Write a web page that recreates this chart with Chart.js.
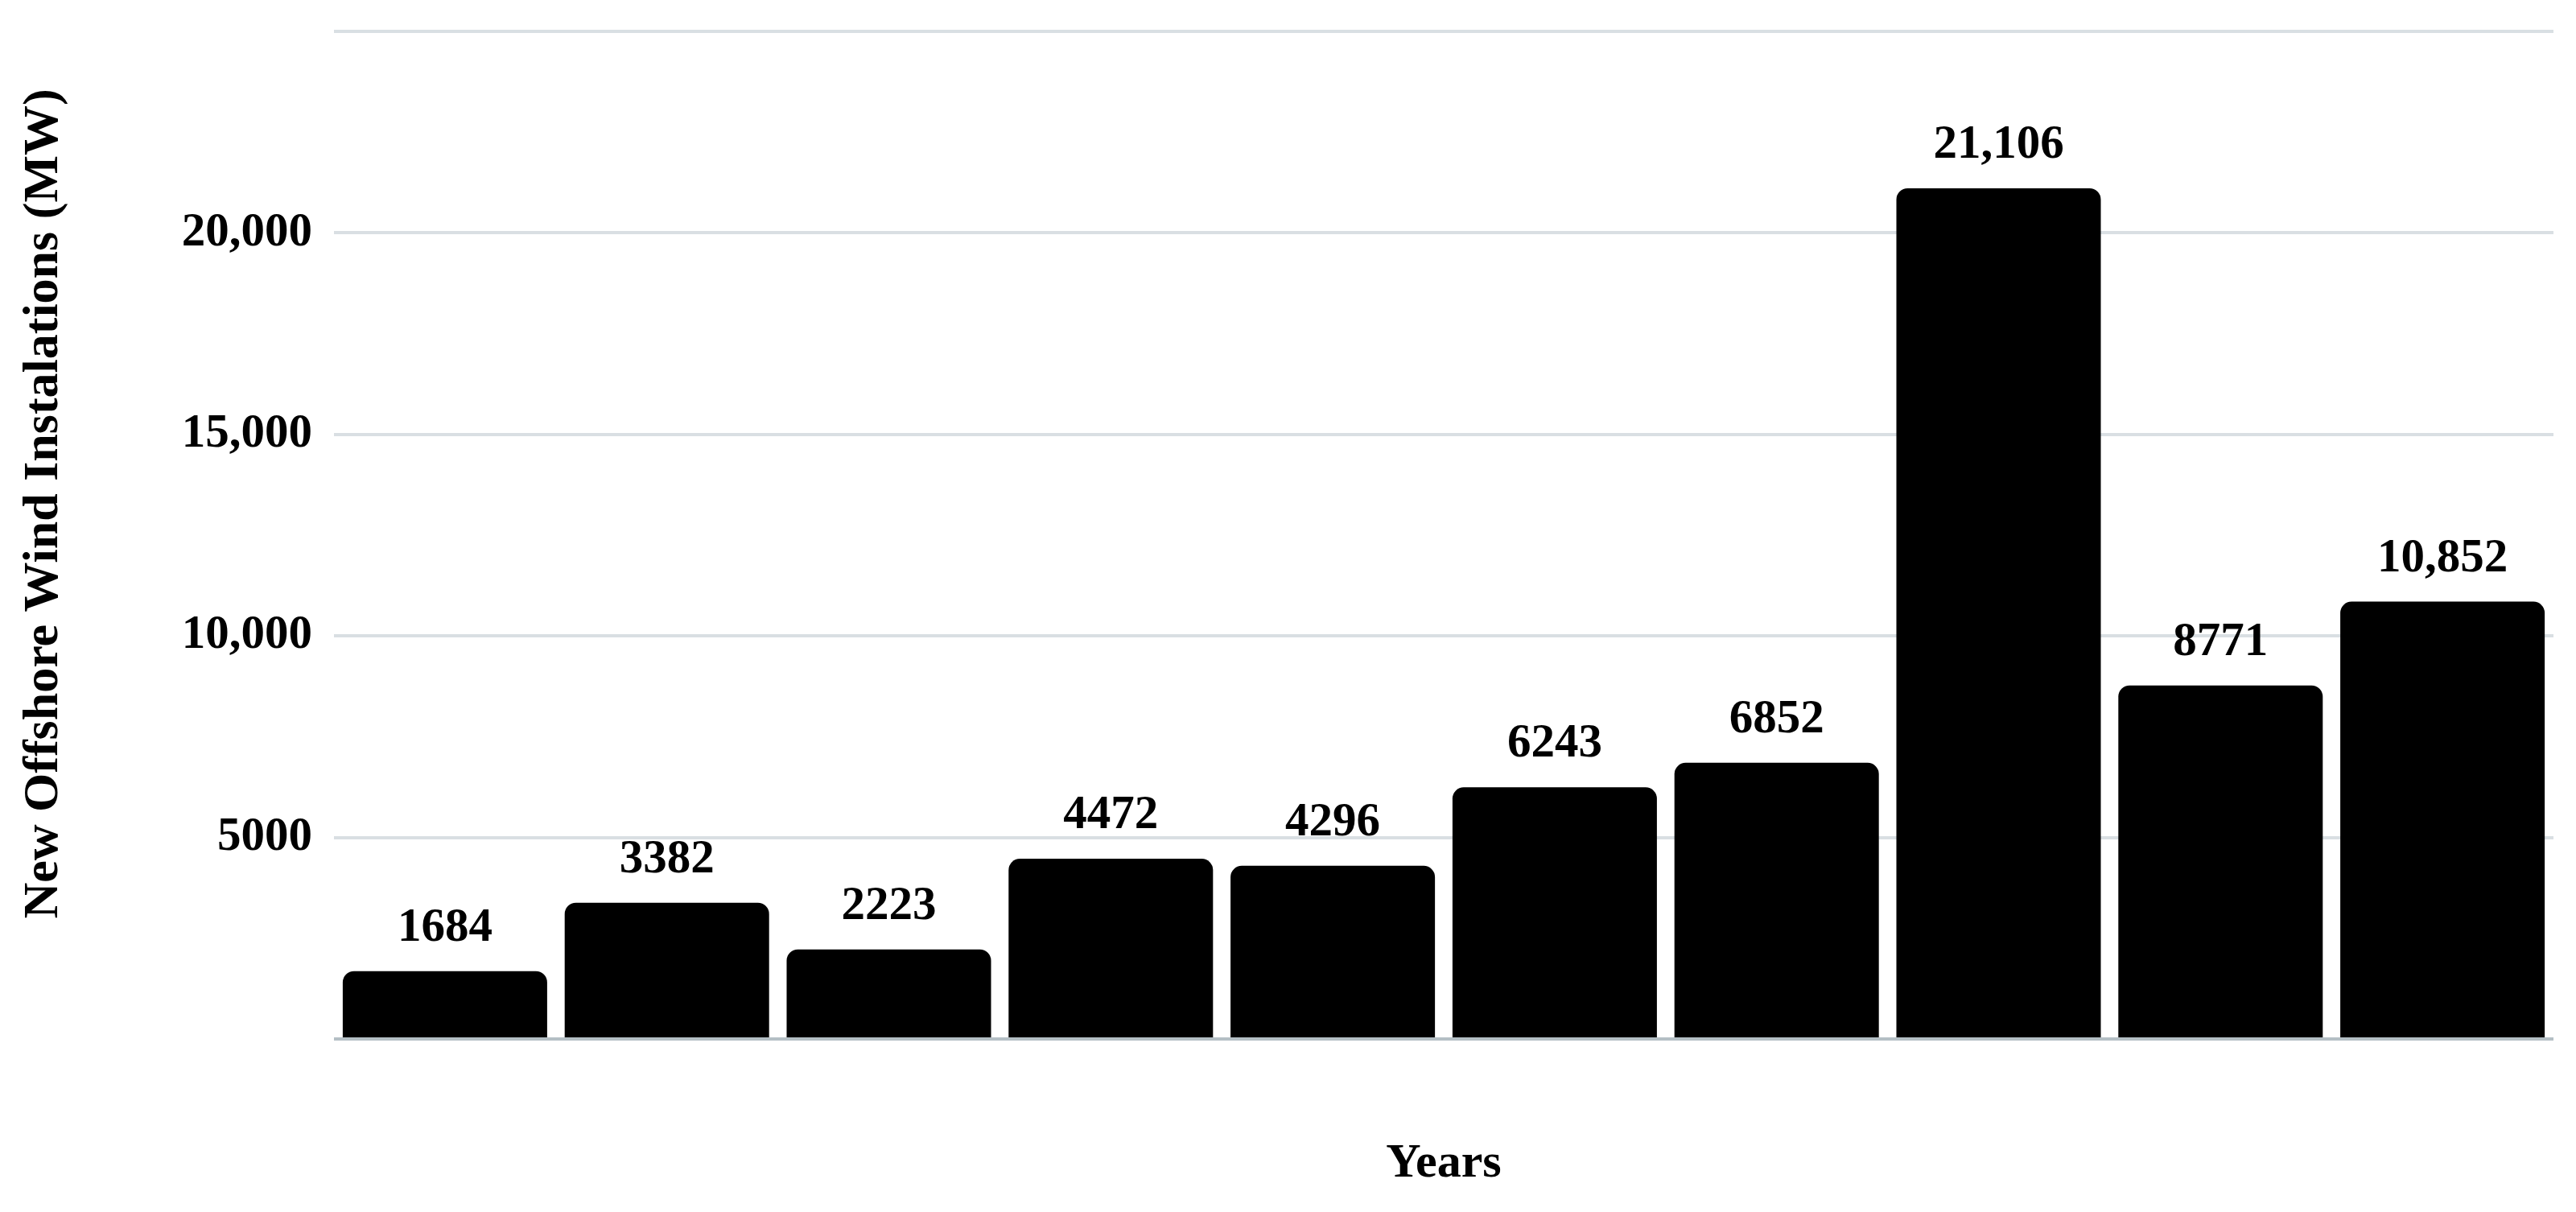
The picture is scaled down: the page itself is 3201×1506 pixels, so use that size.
<!DOCTYPE html>
<html>
<head>
<meta charset="utf-8">
<script src="https://cdn.jsdelivr.net/npm/chart.js@4/dist/chart.umd.min.js"></script>
<style>
  html, body { margin: 0; padding: 0; background: #fff; }
  #wrap { width: 3201px; height: 1506px; }
</style>
</head>
<body>
<div id="wrap"><canvas id="myChart"></canvas></div>
<script>
/* data */
const years = ["2014", "2015", "2016", "2017", "2018", "2019", "2020", "2021", "2022", "2023"];
const installs = [1684, 3382, 2223, 4472, 4296, 6243, 6852, 21106, 8771, 10852];
const yTicks = [5000, 10000, 15000, 20000];
const yTitle = "New Offshore Wind Instalations (MW)";

const serif = "'Liberation Serif', 'Times New Roman', serif";
const gridColor = "#d9dfe3";
const axisColor = "#b4bfc5";

// 5000 stays plain, 10000 and up get a comma
function fmt(v) {
  return v >= 10000 ? v.toLocaleString("en-US") : String(v);
}

/* value labels above bars + y axis title */
const barLabels = {
  id: "barLabels",
  afterDatasetsDraw(chart) {
    const ctx = chart.ctx;
    const meta = chart.getDatasetMeta(0);
    ctx.save();
    ctx.font = "bold 59px " + serif;
    ctx.fillStyle = "#000";
    ctx.textAlign = "center";
    ctx.textBaseline = "alphabetic";
    meta.data.forEach((bar, i) => {
      ctx.fillText(fmt(installs[i]), bar.x, bar.y - 38);
    });
    ctx.restore();
  },
  afterDraw(chart) {
    // title sits a bit above the plot centre in the original
    const ctx = chart.ctx;
    ctx.save();
    ctx.translate(55, 626);
    ctx.rotate(-Math.PI / 2);
    ctx.font = "bold 62px " + serif;
    ctx.fillStyle = "#000";
    ctx.textAlign = "center";
    ctx.textBaseline = "middle";
    ctx.fillText(yTitle, 0, 0);
    ctx.restore();
  },
};

let ctx = document.getElementById("myChart");

let chart = new Chart(ctx, {
  type: "bar",
  data: {
    labels: years,
    datasets: [
      {
        data: installs,
        backgroundColor: "#000",
        borderRadius: { topLeft: 14, topRight: 14, bottomLeft: 0, bottomRight: 0 },
        borderSkipped: "bottom",
        barPercentage: 0.921,
        categoryPercentage: 1,
      },
    ],
  },
  options: {
    responsive: true,
    maintainAspectRatio: false,
    animation: false,
    layout: { padding: { top: 39, right: 28, bottom: 0, left: 0 } },
    plugins: {
      legend: { display: false },
      tooltip: { enabled: false },
    },
    scales: {
      x: {
        grid: { display: false },
        border: { display: false },
        ticks: { display: false },
        title: {
          display: true,
          text: "Years",
          color: "#000",
          font: { family: serif, size: 60, weight: "bold" },
          padding: { top: 0, bottom: 24 },
        },
        afterFit(scale) {
          scale.height = 215;
          scale.paddingLeft = 0;
          scale.paddingRight = 0;
        },
      },
      y: {
        min: 0,
        max: 25000,
        afterBuildTicks(scale) {
          scale.ticks = [0].concat(yTicks, [25000]).map((v) => ({ value: v }));
        },
        grid: {
          drawTicks: false,
          lineWidth: 4,
          color: (c) => (c.tick && c.tick.value === 0 ? axisColor : gridColor),
        },
        border: { display: false },
        ticks: {
          padding: 27,
          color: "#000",
          font: { family: serif, size: 59, weight: "bold" },
          callback: (v) => (yTicks.includes(v) ? fmt(v) : ""),
        },
        afterFit(scale) {
          scale.width = 415;
          scale.paddingTop = 0;
          scale.paddingBottom = 0;
        },
      },
    },
  },
  plugins: [barLabels],
});
</script>
</body>
</html>
